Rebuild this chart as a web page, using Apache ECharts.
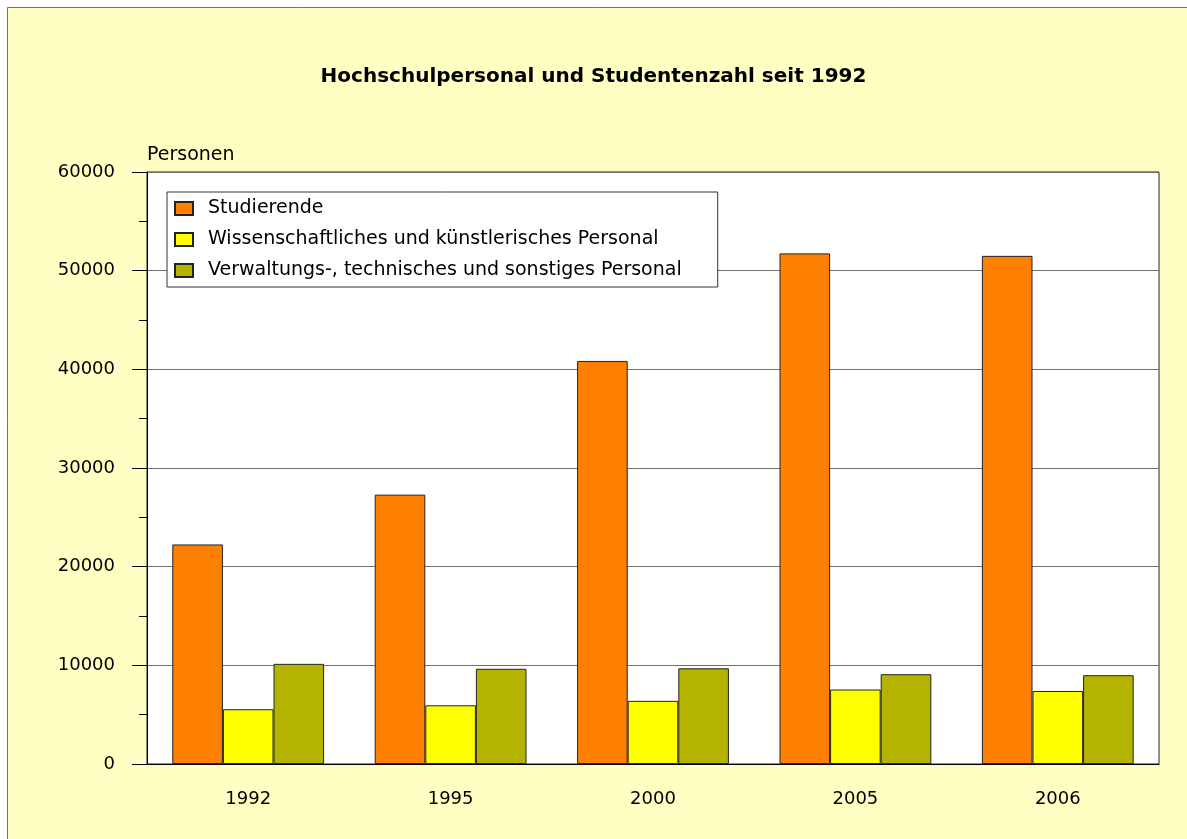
<!DOCTYPE html>
<html>
<head>
<meta charset="utf-8">
<script src="https://cdn.jsdelivr.net/npm/echarts@6/dist/echarts.min.js"></script>
<style>
  html, body { margin: 0; padding: 0; background: #fff; }
  #chart { width: 1187px; height: 839px; }
</style>
</head>
<body>
<div id="chart"></div>
<script>
// Jahre und Werte
var years = ['1992', '1995', '2000', '2005', '2006'];
var studierende = [22250, 27300, 40850, 51750, 51500];
var wissPersonal = [5550, 5950, 6400, 7550, 7400];
var verwPersonal = [10150, 9650, 9700, 9100, 9000];
var seriesNames = ['Studierende', 'Wissenschaftliches und künstlerisches Personal', 'Verwaltungs-, technisches und sonstiges Personal'];
var colors = ['#FF8000', '#FFFF00', '#B4B400'];

var font = '"DejaVu Sans", "Liberation Sans", sans-serif';

var barItem = function (name, data, color) {
    return {
        name: name,
        type: 'bar',
        data: data,
        barGap: '0%',
        barCategoryGap: '25%',
        itemStyle: { color: color, borderColor: '#222', borderWidth: 1 }
    };
};

var chart = echarts.init(document.getElementById('chart'));
var option = {
    backgroundColor: '#ffffff',
    animation: false,
    textStyle: { fontFamily: font },
    graphic: [{
        type: 'rect',
        z: -10,
        shape: { x: 7.5, y: 7.5, width: 1200, height: 850 },
        style: { fill: '#FFFFC4', stroke: '#707070', lineWidth: 1 }
    }],
    title: {
        text: 'Hochschulpersonal und Studentenzahl seit 1992',
        left: 'center',
        top: 62,
        textStyle: { fontFamily: font, fontSize: 20, fontWeight: 'bold', color: '#000' }
    },
    legend: {
        orient: 'vertical',
        left: 167,
        top: 192,
        padding: [7, 36, 7, 7],
        itemWidth: 18,
        itemHeight: 13,
        itemGap: 12,
        backgroundColor: '#ffffff',
        borderColor: '#333',
        borderWidth: 1,
        borderRadius: 0,
        icon: 'rect',
        textStyle: { fontFamily: font, fontSize: 19, color: '#000', padding: [0, 0, 0, 10] },
        data: seriesNames
    },
    grid: {
        left: 147,
        top: 172,
        right: 28,
        bottom: 75,
        show: true,
        backgroundColor: '#ffffff',
        borderColor: '#222',
        borderWidth: 1
    },
    xAxis: {
        type: 'category',
        data: years,
        axisLine: { lineStyle: { color: '#000', width: 1 } },
        axisTick: { alignWithLabel: true, length: 15, lineStyle: { color: '#000' } },
        axisLabel: { margin: 26, fontSize: 18, color: '#000', fontFamily: font }
    },
    yAxis: {
        type: 'value',
        min: 0,
        max: 60000,
        interval: 10000,
        name: 'Personen',
        nameLocation: 'end',
        nameGap: 17,
        nameTextStyle: { align: 'left', verticalAlign: 'middle', fontSize: 19, color: '#000', fontFamily: font },
        axisLine: { show: true, lineStyle: { color: '#000', width: 1 } },
        axisTick: { show: true, length: 15, lineStyle: { color: '#000' } },
        minorTick: { show: true, splitNumber: 2, length: 8, lineStyle: { color: '#000' } },
        minorSplitLine: { show: false },
        splitLine: { lineStyle: { color: '#707070', width: 1 } },
        axisLabel: {
            margin: 32, fontSize: 18, color: '#000', fontFamily: font,
            formatter: function (v) { return String(v); }
        }
    },
    series: [
        barItem(seriesNames[0], studierende, colors[0]),
        barItem(seriesNames[1], wissPersonal, colors[1]),
        barItem(seriesNames[2], verwPersonal, colors[2])
    ]
};
chart.setOption(option);
</script>
</body>
</html>
